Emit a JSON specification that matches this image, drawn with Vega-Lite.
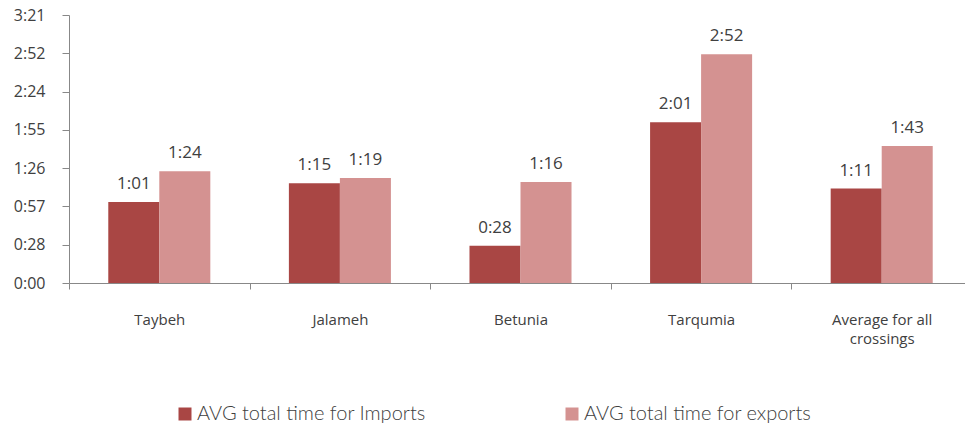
{
  "$schema": "https://vega.github.io/schema/vega-lite/v6.json",
  "width": 903,
  "height": 268,
  "autosize": {"type": "none"},
  "padding": {"left": 69, "top": 15, "right": 0, "bottom": 147},
  "background": "white",
  "config": {
    "view": {"stroke": null},
    "font": "Open Sans",
    "axis": {"domainColor": "#888888", "tickColor": "#888888", "labelColor": "#404040", "labelFont": "Open Sans", "labelFontSize": 16, "grid": false, "title": null}
  },
  "data": {
    "values": [
      {"crossing": "Taybeh", "series": "AVG total time for Imports", "minutes": 61},
      {"crossing": "Taybeh", "series": "AVG total time for exports", "minutes": 84},
      {"crossing": "Jalameh", "series": "AVG total time for Imports", "minutes": 75},
      {"crossing": "Jalameh", "series": "AVG total time for exports", "minutes": 79},
      {"crossing": "Betunia", "series": "AVG total time for Imports", "minutes": 28},
      {"crossing": "Betunia", "series": "AVG total time for exports", "minutes": 76},
      {"crossing": "Tarqumia", "series": "AVG total time for Imports", "minutes": 121},
      {"crossing": "Tarqumia", "series": "AVG total time for exports", "minutes": 172},
      {"crossing": "Average for all crossings", "series": "AVG total time for Imports", "minutes": 71},
      {"crossing": "Average for all crossings", "series": "AVG total time for exports", "minutes": 103}
    ]
  },
  "transform": [
    {"calculate": "floor(datum.minutes / 60) + ':' + (datum.minutes % 60 < 10 ? '0' : '') + (datum.minutes % 60)", "as": "label"}
  ],
  "encoding": {
    "x": {
      "field": "crossing",
      "type": "nominal",
      "sort": null,
      "scale": {"paddingInner": 0, "paddingOuter": 0},
      "axis": {
        "labelAngle": 0,
        "bandPosition": 0,
        "tickBand": "extent",
        "tickSize": 6,
        "labelPadding": 23,
        "labelAlign": "center",
        "labelBaseline": "top",
        "labelLineHeight": 19,
        "labelFontSize": 15,
        "labelExpr": "datum.label == 'Average for all crossings' ? ['Average for all', 'crossings'] : datum.label"
      }
    },
    "xOffset": {
      "field": "series",
      "type": "nominal",
      "scale": {"domain": ["AVG total time for Imports", "AVG total time for exports"], "paddingInner": 0, "paddingOuter": 0.77}
    },
    "y": {
      "field": "minutes",
      "type": "quantitative",
      "scale": {"domain": [0, 201.6], "nice": false, "zero": true},
      "axis": {
        "values": [0, 28.8, 57.6, 86.4, 115.2, 144, 172.8, 201.6],
        "tickSize": 7,
        "labelPadding": 17,
        "labelExpr": "floor(datum.value / 60) + ':' + (floor(datum.value % 60) < 10 ? '0' : '') + floor(datum.value % 60)"
      }
    }
  },
  "layer": [
    {
      "mark": {"type": "bar"},
      "encoding": {
        "color": {
          "field": "series",
          "type": "nominal",
          "scale": {"domain": ["AVG total time for Imports", "AVG total time for exports"], "range": ["#A94644", "#D49291"]},
          "legend": {
            "title": null,
            "orient": "none",
            "direction": "horizontal",
            "legendX": 106,
            "legendY": 389,
            "symbolType": "square",
            "symbolSize": 169,
            "symbolStrokeWidth": 0,
            "symbolOpacity": 1,
            "labelFont": "Lato",
            "labelFontWeight": 300,
            "labelFontSize": 20,
            "labelColor": "#404040",
            "labelOffset": 2,
            "labelLimit": 400,
            "columnPadding": 136
          }
        }
      }
    },
    {
      "mark": {"type": "text", "baseline": "bottom", "dy": -9, "fontSize": 17, "color": "#404040", "font": "Open Sans"},
      "encoding": {"text": {"field": "label"}}
    }
  ]
}
